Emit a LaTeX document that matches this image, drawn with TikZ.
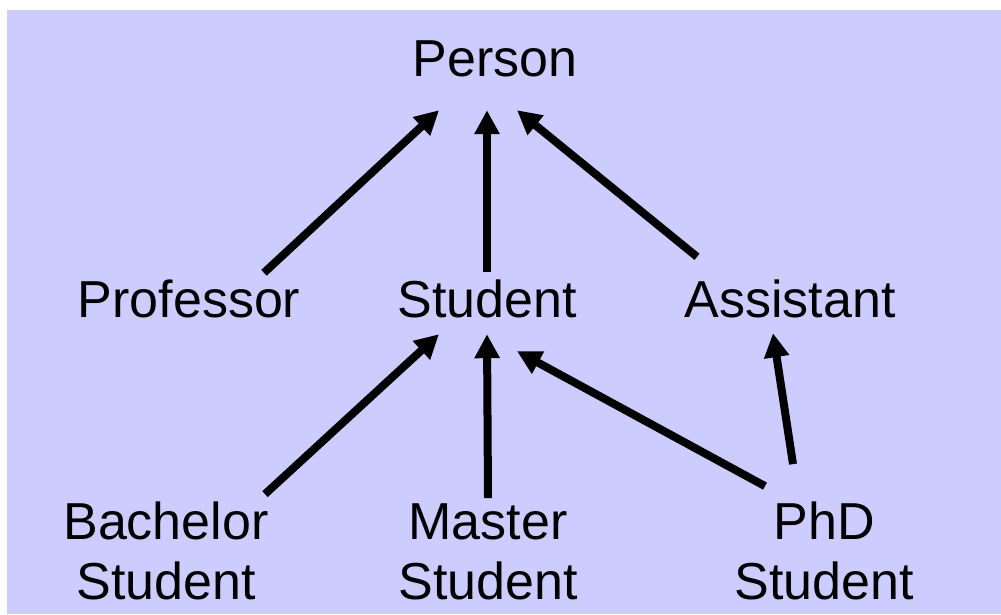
\documentclass[tikz,border=0pt]{standalone}
\usepackage{fontspec}
\setmainfont{Liberation Sans}
\usetikzlibrary{arrows.meta, positioning}
\definecolor{lavender}{HTML}{CCCCFF}

\begin{document}
\begin{tikzpicture}[x=1pt, y=1pt,
        font=\fontsize{52}{60}\selectfont,
        cls/.style={inner sep=0pt, anchor=base, text height=37pt, text depth=0pt},
        cls2/.style={inner sep=0pt, anchor=base, align=center},
        isa/.style={line width=8pt, -{Triangle[length=24pt, width=24pt]}}]

        \useasboundingbox (0,0) rectangle (1001,614);
        \fill[lavender] (7,0) rectangle (1001,604);

        \node[cls] (P) at (495,537) {Person};

        \node[cls] (Pr) at (189,297) {Professor};
        \node[cls] (S) at (487,297) {Student};
        \node[cls] (A) at (790,297) {Assistant};

        \node[cls2] (B) at (166,15) {Bachelor\\Student};
        \node[cls2] (M) at (488,15) {Master\\Student};
        \node[cls2] (D) at (824,15) {PhD\\Student};

        \draw[isa] ([xshift=75pt, yshift=7pt]Pr.north) -- ([xshift=-56pt, yshift=-33pt]P.south);
        \draw[isa] ([yshift=8pt]S.north) -- ([xshift=-8pt, yshift=-33pt]P.south);
        \draw[isa] ([xshift=-93pt, yshift=23pt]A.north) -- ([xshift=22pt, yshift=-33pt]P.south);

        \draw[isa] ([xshift=99pt, yshift=7pt]B.north) -- ([xshift=-48pt, yshift=-17pt]S.south);
        \draw[isa] ([yshift=5pt]M.north) -- ([yshift=-17pt]S.south);
        \draw[isa] ([xshift=-59pt, yshift=15pt]D.north) -- ([xshift=30pt, yshift=-34pt]S.south);
        \draw[isa] ([xshift=-31pt, yshift=37pt]D.north) -- ([xshift=-17pt, yshift=-16pt]A.south);

    \end{tikzpicture}
\end{document}
